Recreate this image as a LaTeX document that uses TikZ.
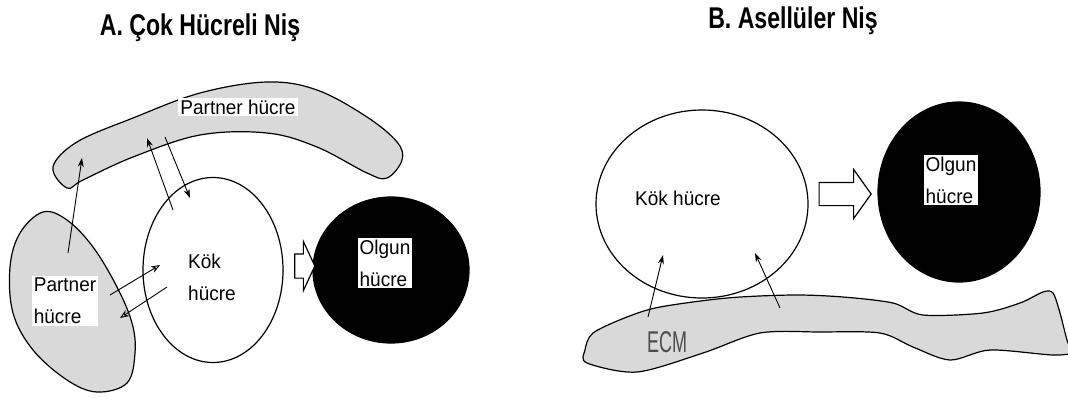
\documentclass[tikz,border=0pt]{standalone}
\usepackage{fontspec}
\setmainfont{Liberation Sans}
\newfontfamily\titlefont[FakeStretch=0.77]{Liberation Sans}
\newfontfamily\narrowfont[FakeStretch=0.6]{Liberation Sans}
\newfontfamily\cellfamily[FakeStretch=0.95]{Liberation Sans}
\usepackage{tikz}
\usetikzlibrary{arrows.meta, positioning, shapes.geometric, shapes.arrows}
\newcommand{\cellfont}{\cellfamily\fontsize{20}{32}\selectfont}

\begin{document}
\begin{tikzpicture}[
    x=1pt, y=-1pt,
    line width=1.2pt,
    title/.style={anchor=base, font=\titlefont\bfseries\fontsize{30}{36}\selectfont},
    stem cell/.style={ellipse, draw, fill=white, inner sep=0pt},
    mature cell/.style={ellipse, draw, fill=black, inner sep=0pt},
    label box/.style={fill=white, inner sep=2pt, align=left, font=\cellfont},
    plain label/.style={inner sep=0pt, align=left, font=\cellfont},
    partner/.style={draw, fill=gray!30},
    signal/.style={-{Stealth[length=9pt, width=6pt]}, line width=0.9pt},
    open signal/.style={-{Stealth[open, length=9pt, width=7pt]}, line width=0.9pt},
    hollow arrow/.style={single arrow, draw, fill=white, inner xsep=0pt, minimum width=0pt}
]
    \useasboundingbox (0,0) rectangle (1068,397);
    \clip (0,0) rectangle (1068,397);

    % Titles
    \node[title] (titleA) at (200,35) {A. Çok Hücreli Niş};
    \node[title] (titleB) at (793,28) {B. Asellüler Niş};

    % A: partner cells
    \draw[partner] plot[smooth cycle, tension=0.6] coordinates {
        (53,167) (77,142) (133,118) (200,93) (267,82) (317,90) (367,117)
        (397,142) (402,160) (387,178) (367,173) (317,147) (267,133)
        (200,135) (133,157) (83,180) (67,188)};
    \draw[partner] plot[smooth cycle, tension=0.6] coordinates {
        (43,212) (20,233) (10,267) (13,313) (33,350) (67,380) (97,392)
        (127,383) (135,353) (132,323) (117,287) (93,247) (67,220)};
    \node[label box] (partnerTop) at (238,107) {Partner hücre};
    \node[label box] (partnerLeft) at (65,301) {Partner\\hücre};

    % A: stem cell and mature cell
    \node[stem cell, minimum width=140pt, minimum height=185pt] (kokA) at (213,270) {};
    \node[plain label] (kokAlabel) at (212,277) {Kök\\hücre};
    \node[mature cell, minimum width=156pt, minimum height=146pt] (olgunA) at (391,270) {};
    \node[label box] (olgunAlabel) at (385,263) {Olgun\\hücre};
    \node[hollow arrow, minimum height=20pt, inner ysep=11.5pt,
          single arrow head extend=12.5pt, single arrow tip angle=130] (diffA) at (302,266) {};

    % A: signals
    \coordinate (s1) at (68,253);  \coordinate (t1) at (82,158);
    \coordinate (s2) at (173,210); \coordinate (t2) at (147,138);
    \coordinate (s3) at (165,137); \coordinate (t3) at (190,198);
    \coordinate (s4) at (110,295); \coordinate (t4) at (160,265);
    \coordinate (s5) at (167,287); \coordinate (t5) at (120,318);
    \draw[signal] (s1) -- (t1);
    \draw[signal] (s2) -- (t2);
    \draw[signal] (s3) -- (t3);
    \draw[open signal] (s4) -- (t4);
    \draw[open signal] (s5) -- (t5);

    % B: extracellular matrix
    \draw[partner] plot[smooth cycle, tension=0.5] coordinates {
        (585,350) (593,333) (627,317) (660,307) (727,298) (793,295)
        (843,297) (893,303) (923,315) (983,313) (1020,303) (1043,292)
        (1053,293) (1060,313) (1068,343) (1075,352) (1053,355) (990,350)
        (950,360) (913,347) (880,333) (820,332) (760,333) (703,353)
        (637,372) (587,363)};
    \node[inner sep=0pt, text=gray!60!black, font=\narrowfont\fontsize{30}{36}\selectfont] (ecm) at (667,342) {ECM};

    % B: stem cell and mature cell
    \node[stem cell, fill=none, minimum width=212pt, minimum height=188pt] (kokB) at (702,204) {};
    \node[plain label] (kokBlabel) at (678,198) {Kök hücre};
    \node[mature cell, minimum width=162pt, minimum height=180pt] (olgunB) at (959,192) {};
    \node[label box] (olgunBlabel) at (951,180) {Olgun\\hücre};
    \node[hollow arrow, minimum height=52pt, inner ysep=11pt,
          single arrow head extend=13pt, single arrow tip angle=109] (diffB) at (841,194) {};

    % B: matrix signals
    \coordinate (s6) at (648,317); \coordinate (t6) at (663,255);
    \coordinate (s7) at (780,308); \coordinate (t7) at (755,253);
    \draw[signal] (s6) -- (t6);
    \draw[signal] (s7) -- (t7);
\end{tikzpicture}
\end{document}
